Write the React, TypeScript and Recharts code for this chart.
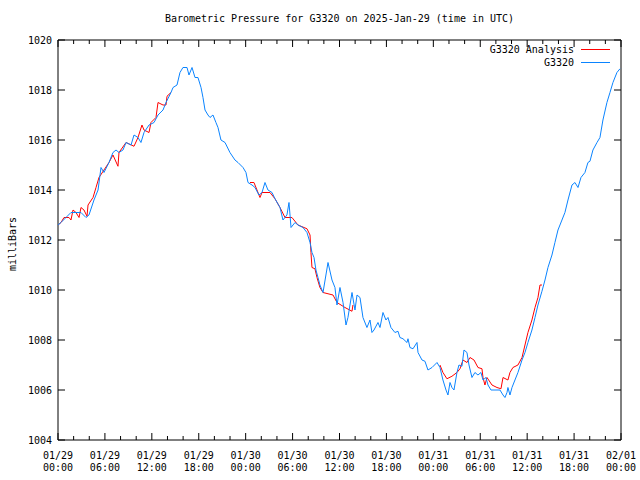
import React from 'react';
import { LineChart, Line, XAxis, YAxis, ReferenceArea, Legend } from 'recharts';

// G3320 observed pressure (hours since 2025-01-29 00:00 UTC, millibars)
const blueHours = [
  0, 0.38, 1.02, 1.66, 2.3, 2.94, 3.58, 3.96, 4.6, 5.12, 5.5, 5.88, 6.52, 7.03, 7.42, 7.8,
  8.31, 8.7, 9.34, 9.72, 10.23, 10.61, 11.0, 11.64, 12.28, 12.79, 13.43, 13.81, 14.45, 14.71,
  15.22, 15.6, 15.98, 16.5, 16.75, 17.14, 17.52, 17.9, 18.29, 18.54, 18.8, 19.18, 19.44, 19.82,
  20.2, 20.46, 20.84, 21.36, 21.99, 22.63, 23.02, 23.66, 24.04, 24.3, 24.81, 25.19, 25.7, 26.09,
  26.47, 26.85, 27.37, 27.75, 28.39, 28.77, 29.28, 29.54, 29.8, 30.31, 30.69, 31.33, 31.84,
  32.23, 32.48, 32.74, 32.99, 33.25, 33.5, 33.89, 34.53, 35.04, 35.42, 35.68, 36.06, 36.45,
  36.83, 37.08, 37.6, 37.98, 38.24, 38.62, 39.0, 39.51, 39.9, 40.15, 40.41, 40.92, 41.18,
  41.56, 41.94, 42.2, 42.58, 43.09, 43.48, 43.73, 44.12, 44.63, 44.76, 45.01, 45.4, 45.91,
  46.04, 46.55, 46.93, 47.31, 47.83, 48.47, 48.85, 49.23, 49.62, 49.87, 50.13, 50.38, 50.64,
  51.02, 51.28, 51.66, 51.92, 52.3, 52.56, 52.94, 53.32, 53.71, 54.09, 54.35, 54.73, 54.99,
  55.37, 56.52, 56.91, 57.16, 57.42, 57.54, 57.8, 58.06, 58.44, 58.82, 59.34, 59.72, 60.1,
  60.61, 61.0, 61.38, 61.89, 62.28, 62.66, 63.17, 63.55, 63.94, 64.45, 64.83, 65.22, 65.73,
  66.11, 66.5, 66.88, 67.39, 67.77, 68.03, 68.41, 68.93, 69.31, 69.69, 70.2, 70.59, 70.97,
  71.48, 71.87,
];
const bluePressure = [
  1012.6, 1012.7, 1012.9, 1013.1, 1013.1, 1013.1, 1012.9, 1013.0, 1013.6, 1014.0, 1014.9, 1014.7,
  1015.1, 1015.5, 1015.6, 1015.5, 1015.6, 1015.9, 1015.8, 1016.2, 1016.1, 1015.9, 1016.3, 1016.6,
  1016.7, 1017.0, 1017.2, 1017.5, 1017.9, 1018.1, 1018.2, 1018.7, 1018.9, 1018.9, 1018.6, 1018.9,
  1018.5, 1018.5, 1018.1, 1017.7, 1017.2, 1017.0, 1016.9, 1017.0, 1016.7, 1016.5, 1016.0, 1015.9,
  1015.5, 1015.2, 1015.1, 1014.9, 1014.7, 1014.3, 1014.2, 1014.1, 1013.8, 1013.9, 1014.3, 1014.0,
  1013.9, 1013.65, 1013.3, 1012.8, 1013.0, 1013.5, 1012.5, 1012.7, 1012.6, 1012.5, 1012.3, 1011.9,
  1011.5, 1011.3, 1010.8, 1010.5, 1010.2, 1009.9, 1011.1, 1010.4, 1010.1, 1009.4, 1010.1, 1009.5,
  1008.6, 1008.9, 1009.9, 1009.2, 1009.8, 1009.7, 1008.9, 1008.5, 1008.8, 1008.3, 1008.4, 1008.7,
  1008.5, 1009.1, 1008.8, 1008.9, 1008.5, 1008.3, 1008.35, 1008.1, 1008.05, 1007.9, 1008.05,
  1007.7, 1007.65, 1007.9, 1007.5, 1007.2, 1007.15, 1006.8, 1006.9, 1007.1, 1006.9, 1006.4,
  1006.0, 1005.8, 1006.3, 1006.1, 1006.0, 1006.7, 1007.0, 1006.95, 1007.6, 1007.5, 1007.0,
  1006.5, 1006.7, 1006.6, 1006.7, 1006.4, 1006.5, 1006.2, 1006.0, 1006.0, 1005.8, 1005.7,
  1005.9, 1006.1, 1005.8, 1006.1, 1006.4, 1006.7, 1007.2, 1007.5, 1007.9, 1008.4, 1008.9,
  1009.4, 1009.95, 1010.4, 1010.9, 1011.4, 1011.9, 1012.4, 1012.8, 1013.1, 1013.6, 1014.2,
  1014.3, 1014.1, 1014.5, 1014.7, 1015.1, 1015.15, 1015.6, 1015.9, 1016.1, 1016.8, 1017.5,
  1017.9, 1018.3, 1018.7, 1018.85,
];

// G3320 Analysis (null = no analysis value)
const redHours = [
  0, 0.38, 0.77, 1.41, 1.66, 1.92, 2.3, 2.69, 2.94, 3.32, 3.71, 3.84, 4.48, 4.86, 5.24, 5.88,
  6.52, 7.03, 7.67, 7.8, 8.7, 9.72, 10.23, 10.74, 11.0, 11.64, 11.89, 12.53, 12.79, 13.43,
  13.81, 13.94, 14.45, 19,
  24.55, 25.06, 25.83, 26.09, 27.11, 27.75, 28.39, 29.03, 29.92, 30.69, 31.84, 32.23, 32.35,
  32.48, 32.86, 33.12, 33.5, 33.89, 34.53, 35.17, 35.68, 36.7, 37.6, 37.72, 43,
  48.85, 49.23, 49.74, 50.38, 51.02, 51.41, 51.79, 52.3, 52.69, 53.2, 53.71, 54.22, 54.35,
  54.6, 54.86, 55.5, 56.14, 56.65, 56.91, 57.54, 57.8, 58.18, 58.82, 59.34, 59.72, 60.1,
  60.61, 61.0, 61.38, 61.64, 61.89,
];
const redPressure = [
  1012.6, 1012.7, 1012.9, 1012.9, 1012.8, 1013.2, 1013.1, 1012.9, 1013.3, 1013.2, 1012.95,
  1013.4, 1013.7, 1014.1, 1014.5, 1014.8, 1015.1, 1015.4, 1014.95, 1015.5, 1015.9, 1015.75,
  1016.1, 1016.6, 1016.4, 1016.3, 1016.7, 1016.9, 1017.5, 1017.4, 1017.4, 1017.75, 1017.9, null,
  1014.3, 1014.3, 1013.7, 1013.9, 1013.9, 1013.65, 1013.3, 1012.9, 1012.9, 1012.6, 1012.45,
  1012.2, 1011.5, 1010.9, 1010.85, 1010.5, 1010.1, 1009.9, 1009.85, 1009.8, 1009.5, 1009.3,
  1009.15, 1009.4, null,
  1007.0, 1006.7, 1006.45, 1006.55, 1006.7, 1006.85, 1007.2, 1007.1, 1007.3, 1007.2, 1006.9,
  1006.85, 1006.5, 1006.2, 1006.5, 1006.2, 1006.1, 1006.05, 1006.5, 1006.4, 1006.7, 1006.9,
  1007.0, 1007.3, 1007.8, 1008.3, 1008.8, 1009.3, 1009.7, 1010.2, 1010.2,
];

const xTickHours = [0, 6, 12, 18, 24, 30, 36, 42, 48, 54, 60, 66, 72];
const xTickDates = ['01/29', '01/29', '01/29', '01/29', '01/30', '01/30', '01/30', '01/30', '01/31', '01/31', '01/31', '01/31', '02/01'];
const xTickTimes = ['00:00', '06:00', '12:00', '18:00', '00:00', '06:00', '12:00', '18:00', '00:00', '06:00', '12:00', '18:00', '00:00'];
const xAllTicks = [0, 2, 4, 6, 8, 10, 12, 14, 16, 18, 20, 22, 24, 26, 28, 30, 32, 34, 36, 38, 40, 42, 44, 46, 48, 50, 52, 54, 56, 58, 60, 62, 64, 66, 68, 70, 72];
const yTicks = [1004, 1006, 1008, 1010, 1012, 1014, 1016, 1018, 1020];

const blueData = blueHours.map((h, i) => ({ h, p: bluePressure[i] }));
const redData = redHours.map((h, i) => ({ h, p: redPressure[i] }));

const W = 640;
const H = 480;
const TOP = 40;
const BOTTOM = 440;
const LEFT = 58;
const RIGHT = 621;
const FONT = '"DejaVu Sans Mono", monospace';
const RED = '#ff0000';
const BLUE = '#0a84ff';

const XTick = (props: any) => {
  const { x, payload } = props;
  const i = xTickHours.indexOf(payload.value);
  const len = i >= 0 ? 7 : 4;
  return (
    <g>
      <line x1={x} x2={x} y1={BOTTOM} y2={BOTTOM - len} stroke="#000" />
      <line x1={x} x2={x} y1={TOP} y2={TOP + len} stroke="#000" />
      {i >= 0 && (
        <text x={x} y={BOTTOM + 19} textAnchor="middle" fontFamily={FONT} fontSize={10} fill="#000">
          <tspan x={x}>{xTickDates[i]}</tspan>
          <tspan x={x} dy={12}>{xTickTimes[i]}</tspan>
        </text>
      )}
    </g>
  );
};

const YTick = (props: any) => {
  const { y, payload } = props;
  return (
    <g>
      <line x1={LEFT} x2={LEFT + 7} y1={y} y2={y} stroke="#000" />
      <line x1={RIGHT} x2={RIGHT - 7} y1={y} y2={y} stroke="#000" />
      <text x={LEFT - 6} y={y + 4} textAnchor="end" fontFamily={FONT} fontSize={10} fill="#000">
        {payload.value}
      </text>
    </g>
  );
};

const legendItems = [
  { label: 'G3320 Analysis', color: RED },
  { label: 'G3320', color: BLUE },
];

const LegendBox = () => (
  <div style={{ fontFamily: FONT, fontSize: 10, color: '#000' }}>
    {legendItems.map((it) => (
      <div key={it.label} style={{ display: 'flex', justifyContent: 'flex-end', alignItems: 'center', height: 12.5 }}>
        <span style={{ whiteSpace: 'pre' }}>{it.label}</span>
        <span style={{ display: 'inline-block', width: 29, height: 1, background: it.color, marginLeft: 7 }} />
      </div>
    ))}
  </div>
);

export default function App() {
  return (
    <div style={{ position: 'fixed', left: 0, top: 0, width: W, height: H, background: '#fff' }}>
      <div
        style={{
          position: 'absolute', left: LEFT, top: 13, width: RIGHT - LEFT, textAlign: 'center',
          fontFamily: FONT, fontSize: 10, color: '#000', whiteSpace: 'pre',
        }}
      >
        Barometric Pressure for G3320 on 2025-Jan-29 (time in UTC)
      </div>
      <div
        style={{
          position: 'absolute', left: 12, top: 244, transform: 'translate(-50%, -50%) rotate(-90deg)',
          fontFamily: FONT, fontSize: 10, color: '#000', whiteSpace: 'pre',
        }}
      >
        milliBars
      </div>
      <LineChart width={W} height={H} margin={{ top: TOP, right: W - RIGHT, bottom: 0, left: 0 }}>
        <XAxis
          dataKey="h"
          type="number"
          domain={[0, 72]}
          ticks={xAllTicks}
          interval={0}
          height={H - BOTTOM}
          tick={<XTick />}
          tickLine={false}
          axisLine={false}
          allowDataOverflow
        />
        <YAxis
          type="number"
          domain={[1004, 1020]}
          ticks={yTicks}
          interval={0}
          width={LEFT}
          tick={<YTick />}
          tickLine={false}
          axisLine={false}
          allowDataOverflow
        />
        <ReferenceArea x1={0} x2={72} y1={1004} y2={1020} fill="none" stroke="#000" strokeWidth={1} />
        <Legend
          content={<LegendBox />}
          layout="horizontal"
          verticalAlign="middle"
          align="center"
          wrapperStyle={{ position: 'absolute', top: 43.5, left: 440, width: 170, height: 25 }}
        />
        <Line
          data={redData}
          dataKey="p"
          name="G3320 Analysis"
          type="linear"
          stroke={RED}
          strokeWidth={1}
          dot={false}
          activeDot={false}
          connectNulls={false}
          isAnimationActive={false}
        />
        <Line
          data={blueData}
          dataKey="p"
          name="G3320"
          type="linear"
          stroke={BLUE}
          strokeWidth={1}
          dot={false}
          activeDot={false}
          isAnimationActive={false}
        />
      </LineChart>
    </div>
  );
}
